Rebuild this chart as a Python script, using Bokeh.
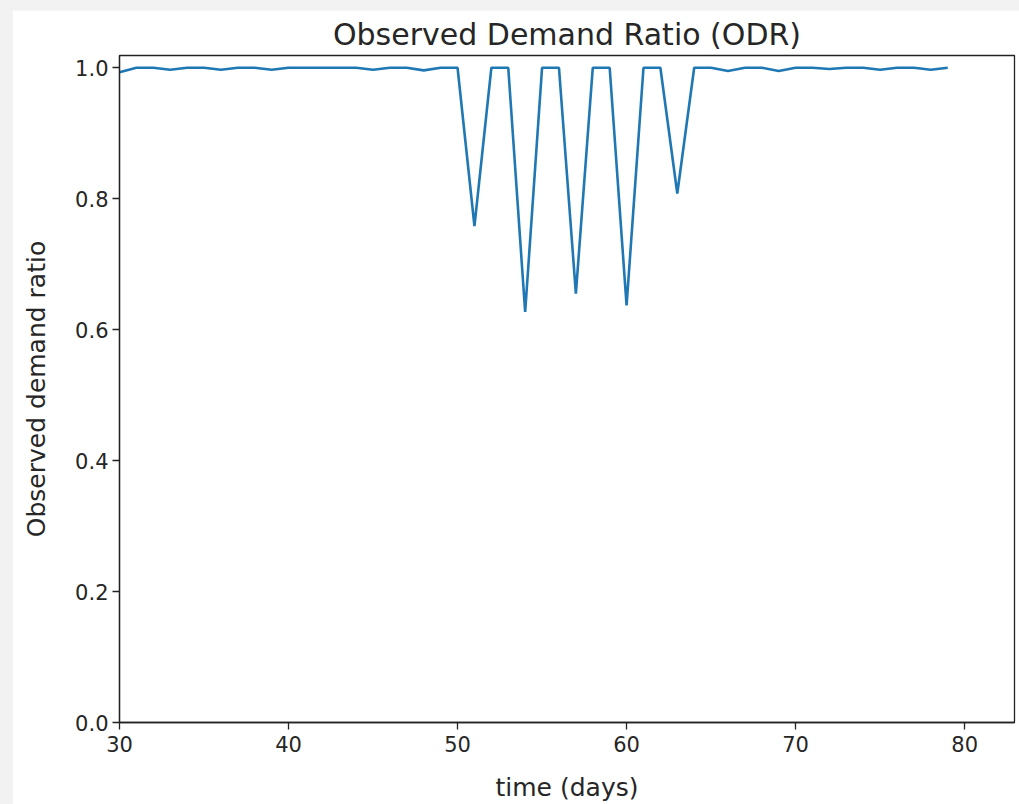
from bokeh.plotting import figure
from bokeh.models import FixedTicker, PrintfTickFormatter, Range1d
from bokeh.layouts import column
from bokeh.embed import file_html
from bokeh.resources import INLINE

days = list(range(30, 80))
odr = [0.993, 1.0, 1.0, 0.997, 1.0, 1.0, 0.997, 1.0, 1.0, 0.997,
       1.0, 1.0, 1.0, 1.0, 1.0, 0.997, 1.0, 1.0, 0.996, 1.0,
       1.0, 0.758, 1.0, 1.0, 0.627, 1.0, 1.0, 0.655, 1.0, 1.0,
       0.637, 1.0, 1.0, 0.808, 1.0, 1.0, 0.995, 1.0, 1.0, 0.995,
       1.0, 1.0, 0.998, 1.0, 1.0, 0.997, 1.0, 1.0, 0.997, 1.0]
x_ticks = [30, 40, 50, 60, 70, 80]
y_ticks = [0.0, 0.2, 0.4, 0.6, 0.8, 1.0]

FONT = "DejaVu Sans"
TXT = "#262626"

p = figure(width=1007, height=794, output_backend="svg", toolbar_location=None,
           title="Observed Demand Ratio (ODR)",
           x_range=Range1d(30, 82.95), y_range=Range1d(0, 1.0187),
           min_border_left=107, min_border_right=5, min_border_top=45, min_border_bottom=81)
p.margin = (10, 0, 0, 12)
p.background_fill_color = "white"
p.border_fill_color = "white"
p.outline_line_color = "#222222"
p.outline_line_width = 1.3
p.grid.visible = False

p.title.align = "center"
p.title.text_font = FONT
p.title.text_font_size = "30px"
p.title.text_font_style = "normal"
p.title.text_color = TXT
p.title.offset = 0
p.title.standoff = 7

p.line(days, odr, line_color="#1f77b4", line_width=2.6)

for ax in (p.xaxis[0], p.yaxis[0]):
    ax.axis_line_color = "#222222"
    ax.axis_line_width = 1.3
    ax.major_tick_line_color = "#222222"
    ax.major_tick_line_width = 1.3
    ax.major_tick_out = 7
    ax.major_tick_in = 0
    ax.minor_tick_line_color = None
    ax.major_label_text_font = FONT
    ax.major_label_text_font_size = "21px"
    ax.major_label_text_color = TXT
    ax.axis_label_text_font = FONT
    ax.axis_label_text_font_size = "25px"
    ax.axis_label_text_font_style = "normal"
    ax.axis_label_text_color = TXT

p.xaxis.ticker = FixedTicker(ticks=x_ticks)
p.xaxis.formatter = PrintfTickFormatter(format="%d")
p.yaxis.ticker = FixedTicker(ticks=y_ticks)
p.yaxis.formatter = PrintfTickFormatter(format="%.1f")
p.xaxis.axis_label = "time (days)"
p.yaxis.axis_label = "Observed demand ratio"
p.xaxis.major_label_standoff = 6
p.yaxis.major_label_standoff = 4
p.xaxis.axis_label_standoff = 18
p.yaxis.axis_label_standoff = 21

layout = column(p, styles={"background-color": "#f2f2f2"}, width=1019, height=804)

open("out.html", "w").write(file_html(layout, INLINE))
